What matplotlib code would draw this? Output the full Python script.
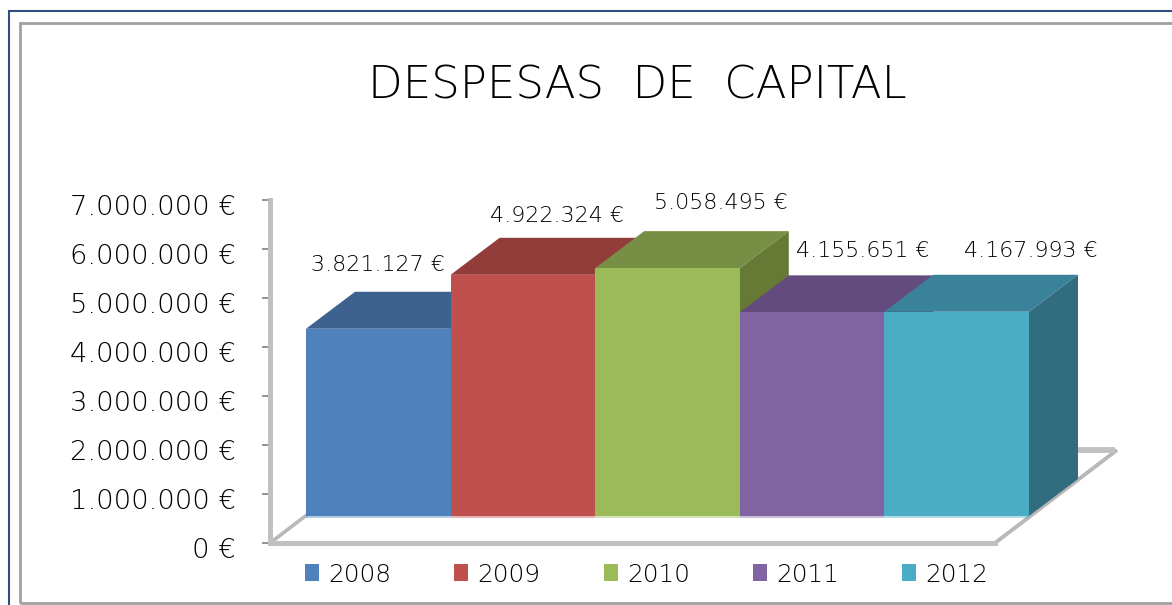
import matplotlib
matplotlib.use("Agg")
import matplotlib.pyplot as plt
from matplotlib.patches import Patch, Polygon, Rectangle
from matplotlib.transforms import ScaledTranslation

years = ["2008", "2009", "2010", "2011", "2012"]
values = [3821127, 4922324, 5058495, 4155651, 4167993]
value_labels = ["3.821.127 €", "4.922.324 €", "5.058.495 €", "4.155.651 €", "4.167.993 €"]
y_ticks = [0, 1000000, 2000000, 3000000, 4000000, 5000000, 6000000, 7000000]
y_tick_labels = ["0 €", "1.000.000 €", "2.000.000 €", "3.000.000 €", "4.000.000 €",
                 "5.000.000 €", "6.000.000 €", "7.000.000 €"]
title = "DESPESAS  DE  CAPITAL"

front_colors = ["#4f81bd", "#c0504d", "#9bbb59", "#8064a2", "#4bacc6"]
top_colors = ["#3d6290", "#933d3a", "#778f44", "#634c7d", "#39829a"]
side_colors = ["#355579", "#7f3432", "#667a36", "#553f6c", "#316d7f"]
label_offsets_px = [(0, 65), (34, 60), (53.5, 66), (51, 62), (74, 62)]
GRAY = "#c0c0c0"
TEXT = dict(family=["DejaVu Sans"], weight="light", color="black")

W, H = 1172, 605
PX_X = 144.6          # px per category
PX_Y = 49.0 / 1e6     # px per euro
X0 = 378.3            # px centre of first bar
Y0 = 543.0            # px of zero


def dx(px):
    return px / PX_X


def dy(px):
    return px / PX_Y


fig = plt.figure(figsize=(W / 100, H / 100), dpi=100, facecolor="white")
ax = fig.add_axes([0, 0, 1, 1], facecolor="none")
ax.set_xlim(-X0 / PX_X, (W - X0) / PX_X)
ax.set_ylim(-(H - Y0) / PX_Y, Y0 / PX_Y)

# frames
fig.add_artist(Rectangle((8.5, -20), W + 40, H + 20 - 11, transform=None, fill=False,
                         ec="#2c4f7f", lw=1.5))
fig.add_artist(Rectangle((19.5, 2), W + 40, H - 2 - 23, transform=None, fill=False,
                         ec="#a0a0a0", lw=2))

# axis geometry
left = -0.5 - dx(36)
right = 4.5 + dx(-34)
lift = dy(27)
floor_dx, floor_dy = dx(122), dy(93)
top_dx, top_dy = dx(49), dy(37)

ax.spines[["top", "right"]].set_visible(False)
ax.spines["left"].set_position(("data", left))
ax.spines["left"].set_bounds(0, 7000000)
ax.spines["left"].set_linewidth(3.6)
ax.spines["left"].set_color(GRAY)
ax.spines["bottom"].set_position(("data", 0))
ax.spines["bottom"].set_bounds(left, right)
ax.spines["bottom"].set_linewidth(3.6)
ax.spines["bottom"].set_color(GRAY)
ax.set_xticks([])
ax.set_yticks(y_ticks, y_tick_labels)
ax.tick_params(axis="y", length=6, width=1.2, color="#808080", pad=18.5)
shift = ScaledTranslation(0, -5 / 100, fig.dpi_scale_trans)
for lab in ax.get_yticklabels():
    lab.set(fontsize=19.75, **TEXT)
    lab.set_transform(lab.get_transform() + shift)

# floor edges, behind the bars
ax.plot([left, left + floor_dx], [0, floor_dy], color="#b8b8b8", lw=2.6,
        solid_capstyle="butt", zorder=1)
ax.plot([right, right + floor_dx], [0, floor_dy], color="#b8b8b8", lw=2.8,
        solid_capstyle="butt", zorder=1)
ax.plot([left + floor_dx, right + floor_dx - dx(2)], [floor_dy, floor_dy], color=GRAY, lw=4.2,
        solid_capstyle="butt", zorder=1)

# bars, painted left to right
for i, v in enumerate(values):
    x0, x1 = i - 0.5, i + 0.5
    y1 = lift + v
    ax.add_patch(Polygon([(x0, y1), (x1, y1), (x1 + top_dx, y1 + top_dy), (x0 + top_dx, y1 + top_dy)],
                         closed=True, fc=top_colors[i], ec="none", zorder=2 + i))
    ax.add_patch(Polygon([(x1, lift), (x1 + top_dx, lift + top_dy), (x1 + top_dx, y1 + top_dy), (x1, y1)],
                         closed=True, fc=side_colors[i], ec="none", zorder=2 + i))
    ax.bar(i, v, width=1.0, bottom=lift, color=front_colors[i], zorder=2 + i)
    ax.plot([x0, x1], [lift - dy(0.8), lift - dy(0.8)], color=front_colors[i], alpha=0.5, lw=1.2,
            solid_capstyle="butt", zorder=2 + i)
    ax.annotate(value_labels[i], xy=(i, y1),
                xytext=(label_offsets_px[i][0] * 0.72, (label_offsets_px[i][1] - 1) * 0.72),
                textcoords="offset points", ha="center", va="center",
                fontsize=15.9, zorder=20, **TEXT)

ax.text((369 + 906) / 2 / PX_X - X0 / PX_X, (Y0 - 86.5) / PX_Y, title, ha="center", va="center",
        fontsize=32.4, **TEXT)

handles = [Patch(fc=c, ec="none") for c in front_colors]
fig.legend(handles, years, loc="center left", bbox_to_anchor=(305 / W, 1 - 574.5 / H), ncol=5,
           frameon=False, prop=dict(size=17.8, family="DejaVu Sans", weight="light"),
           borderpad=0, borderaxespad=0, labelcolor="black",
           handlelength=0.57, handleheight=0.69, handletextpad=0.37, columnspacing=2.55)

fig.savefig("out.png", dpi=100)
